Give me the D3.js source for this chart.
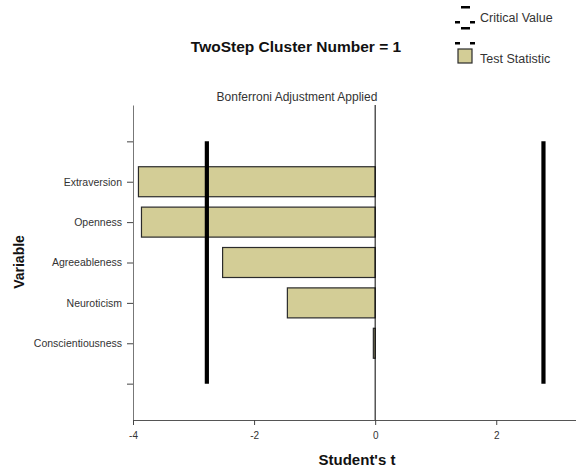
<!DOCTYPE html>
<html>
<head>
<meta charset="utf-8">
<script src="https://cdn.jsdelivr.net/npm/d3@7/dist/d3.min.js"></script>
<style>
  html, body { margin: 0; padding: 0; background: #fff; }
  svg { display: block; font-family: "Liberation Sans", Arial, sans-serif; }
</style>
</head>
<body>
<svg id="chart" width="576" height="469"></svg>
<script>
// Variables tested for cluster 1 and their Student's t statistics
const variables = ["Extraversion", "Openness", "Agreeableness", "Neuroticism", "Conscientiousness"];
const tValues = [-3.91, -3.86, -2.52, -1.45, -0.03];
// Bonferroni-adjusted critical values
const criticalValues = [-2.78, 2.78];
const xTicks = [-4, -2, 0, 2];

const svg = d3.select("#chart");
const plot = { left: 133, right: 581, top: 105, bottom: 420 };

const x = d3.scaleLinear().domain([-4, 3.4]).range([plot.left, plot.right]);

// Blank slots above and below the categories
const yDomain = ["__top", ...variables, "__bottom"];
const y = d3.scalePoint().domain(yDomain).range([plot.top, plot.bottom]).padding(0.9);
const barH = 30;

// Title and subtitle
svg.append("text")
  .attr("x", 296).attr("y", 52)
  .attr("text-anchor", "middle")
  .attr("font-size", 15.5).attr("font-weight", "bold").attr("fill", "#111")
  .text("TwoStep Cluster Number = 1");

svg.append("text")
  .attr("x", 297).attr("y", 101)
  .attr("text-anchor", "middle")
  .attr("font-size", 12).attr("fill", "#333")
  .text("Bonferroni Adjustment Applied");

// Bars
svg.append("g").selectAll("rect")
  .data(variables.map((v, i) => ({ v, t: tValues[i] })))
  .join("rect")
  .attr("x", d => Math.min(x(d.t), x(0)))
  .attr("y", d => y(d.v) - barH / 2)
  .attr("width", d => Math.max(Math.abs(x(d.t) - x(0)), 0.5))
  .attr("height", barH)
  .attr("fill", "#d3cd96")
  .attr("stroke", "#2b2b2b")
  .attr("stroke-width", 1.2);

// Zero reference line
svg.append("line")
  .attr("x1", x(0)).attr("x2", x(0))
  .attr("y1", plot.top).attr("y2", plot.bottom)
  .attr("stroke", "#000").attr("stroke-width", 1);

// Critical value lines
svg.append("g").selectAll("line")
  .data(criticalValues)
  .join("line")
  .attr("x1", d => x(d)).attr("x2", d => x(d))
  .attr("y1", y("__top")).attr("y2", y("__bottom"))
  .attr("stroke", "#000").attr("stroke-width", 4.2);

// Y axis
const yAxis = d3.axisLeft(y)
  .tickSizeInner(6).tickSizeOuter(0).tickPadding(5)
  .tickFormat(d => d.startsWith("__") ? "" : d);
const gy = svg.append("g").attr("transform", `translate(${plot.left},0)`).call(yAxis);
gy.select(".domain").attr("stroke", "#777");
gy.selectAll(".tick line").attr("stroke", "#444");
gy.selectAll(".tick text").attr("font-size", 10.5).attr("fill", "#333")
  .attr("font-family", "Liberation Sans, Arial, sans-serif");

// X axis
const xAxis = d3.axisBottom(x)
  .tickValues(xTicks).tickSizeInner(5).tickSizeOuter(0).tickPadding(7)
  .tickFormat(d3.format("d"));
const gx = svg.append("g").attr("transform", `translate(0,${plot.bottom})`).call(xAxis);
gx.select(".domain").attr("stroke", "#555");
gx.selectAll(".tick line").attr("stroke", "#444");
gx.selectAll(".tick text").attr("font-size", 10).attr("fill", "#333")
  .attr("font-family", "Liberation Sans, Arial, sans-serif")
  .text(d => d < 0 ? "-" + Math.abs(d) : d);

// Axis titles
svg.append("text")
  .attr("x", (plot.left + plot.right) / 2).attr("y", 465)
  .attr("text-anchor", "middle")
  .attr("font-size", 15).attr("font-weight", "bold").attr("fill", "#111")
  .text("Student's t");

svg.append("text")
  .attr("transform", "translate(24,262) rotate(-90)")
  .attr("text-anchor", "middle")
  .attr("font-size", 14).attr("font-weight", "bold").attr("fill", "#111")
  .text("Variable");

// Legend
const legend = svg.append("g");
const dash = (x0, y0, w) => legend.append("rect")
  .attr("x", x0).attr("y", y0).attr("width", w).attr("height", 2.5).attr("fill", "#000");
dash(461, 6, 9);
dash(455, 21, 5);
dash(470, 21, 5);
dash(461, 27, 9);
legend.append("text")
  .attr("x", 480).attr("y", 22)
  .attr("font-size", 12.5).attr("fill", "#333")
  .text("Critical Value");

dash(455, 42, 5);
dash(470, 42, 5);
legend.append("rect")
  .attr("x", 458).attr("y", 49).attr("width", 14).attr("height", 14)
  .attr("fill", "#d3cd96").attr("stroke", "#2b2b2b").attr("stroke-width", 1.2);
legend.append("text")
  .attr("x", 480).attr("y", 63)
  .attr("font-size", 12.5).attr("fill", "#333")
  .text("Test Statistic");
</script>
</body>
</html>
